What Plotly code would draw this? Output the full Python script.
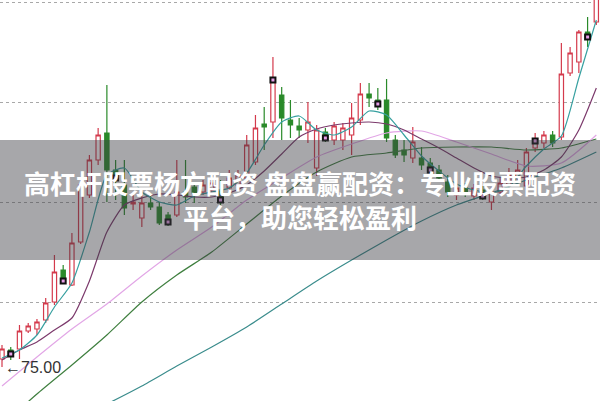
import plotly.graph_objects as go

# ---------------- data ----------------
days = list(range(69))

opens = [75.40, 75.85, 75.90, 76.80, 76.90, 77.35, 78.25, 79.85, 79.10, 81.25,
         83.60, 85.35, 86.70, 84.85, 84.10, 83.15, 82.45, 83.20, 83.00, 82.60,
         82.60, 83.75, 84.00, 83.75, 83.85, 83.85, 83.95, 84.10, 84.45, 85.25,
         87.15, 87.25, 88.60, 87.35, 87.05, 86.85, 84.95, 86.75, 86.35, 86.35,
         86.60, 87.35, 88.65, 88.35, 88.35, 86.35, 85.85, 85.45, 85.45, 85.20,
         84.85, 84.25, 83.60, 83.95, 83.55, 83.85, 83.25, 83.75, 84.10, 84.45,
         84.05, 85.95, 86.20, 86.60, 86.50, 89.70, 90.25, 91.75, 92.25]
highs = [76.10, 76.00, 77.10, 77.20, 77.40, 78.45, 80.60, 80.10, 81.70, 84.35,
         85.60, 86.95, 89.10, 85.35, 85.35, 83.60, 83.60, 83.70, 83.25, 82.75,
         85.35, 85.35, 84.20, 84.35, 84.45, 84.35, 84.85, 84.85, 86.60, 87.60,
         88.00, 90.50, 89.00, 88.35, 87.45, 88.25, 87.10, 86.95, 87.25, 87.20,
         88.20, 89.20, 89.20, 88.95, 89.40, 86.60, 86.35, 87.00, 86.00, 85.45,
         85.10, 84.60, 84.20, 84.20, 84.15, 84.05, 84.00, 84.45, 84.95, 85.35,
         85.95, 86.70, 86.80, 86.80, 91.20, 91.00, 91.85, 92.50, 93.75]
lows = [75.00, 75.35, 75.40, 76.70, 76.60, 77.20, 78.10, 79.25, 79.05, 81.15,
        83.45, 85.10, 83.25, 83.35, 82.60, 82.85, 82.00, 82.85, 82.10, 82.05,
        82.50, 83.20, 83.20, 83.60, 83.60, 83.10, 83.75, 83.85, 84.25, 85.10,
        85.85, 86.45, 86.35, 86.45, 86.45, 86.20, 84.55, 86.25, 86.10, 85.85,
        85.60, 87.10, 88.00, 87.85, 86.25, 85.45, 85.25, 85.20, 84.85, 84.50,
        84.25, 83.50, 83.35, 83.50, 83.35, 83.35, 82.85, 83.60, 83.95, 84.35,
        83.85, 85.75, 85.95, 86.00, 86.35, 89.55, 89.70, 91.00, 92.10]
closes = [75.90, 75.65, 76.80, 77.05, 77.25, 78.20, 79.75, 79.30, 81.20, 84.10,
          85.35, 86.60, 84.85, 84.45, 82.95, 83.25, 83.20, 83.00, 82.20, 82.25,
          83.75, 83.50, 83.70, 84.10, 84.20, 83.35, 84.45, 84.60, 86.10, 86.95,
          87.00, 89.35, 87.45, 87.10, 86.85, 87.25, 86.85, 86.45, 87.05, 86.95,
          87.45, 88.65, 88.45, 88.15, 86.45, 85.60, 85.60, 86.25, 85.10, 84.85,
          84.45, 83.75, 83.95, 83.75, 83.95, 83.55, 83.75, 84.20, 84.60, 84.85,
          85.75, 86.30, 86.60, 86.20, 89.65, 90.70, 91.75, 91.50, 93.45]

# moving-average lines, read at every 2nd bar
ma_fast_days = list(range(0, 69, 2))
ma5 = [75.45, 75.85, 76.60, 78.00, 79.20, 81.75, 84.60, 84.95, 83.75, 83.25,
       83.10, 83.55, 83.75, 83.95, 84.70, 86.10, 87.25, 87.55, 86.85, 86.60,
       87.00, 87.80, 87.60, 86.60, 85.55, 84.80, 84.15, 83.85, 83.70, 84.00,
       85.05, 85.90, 86.55, 89.45, 92.35]
ma10 = [75.35, 75.85, 76.25, 76.85, 77.45, 79.30, 81.75, 83.10, 83.45, 83.65,
        83.60, 83.50, 83.50, 83.70, 84.10, 84.80, 85.65, 86.50, 86.90, 87.10,
        87.20, 87.25, 87.15, 86.85, 86.40, 85.95, 85.45, 84.95, 84.55, 84.45,
        84.50, 84.85, 85.50, 86.85, 88.95]
# slower lines, read at every 4th bar
ma_slow_days = list(range(0, 69, 4))
ma20 = [74.05, 75.50, 76.90, 78.15, 79.55, 80.85, 82.00, 83.35, 84.45, 85.50,
        86.15, 86.70, 86.80, 86.25, 85.65, 85.05, 85.20, 86.60]
ma60 = [72.10, 73.65, 75.10, 76.60, 78.25, 79.60, 80.75, 82.15, 83.55, 84.75,
        85.50, 85.70, 85.95, 86.00, 86.00, 85.85, 85.95, 86.40]
ma120 = [70.50, 71.35, 72.30, 73.15, 74.05, 75.05, 76.00, 77.00, 78.15, 79.30,
         80.35, 81.35, 82.30, 83.10, 83.70, 84.35, 84.95, 85.75]

grid_levels = [78.25, 83.25, 88.25, 93.25]
marker_days = list(range(1, 69, 6))
low_label = "←75.00"
banner_lines = ["高杠杆股票杨方配资 盘盘赢配资：专业股票配资", "平台，助您轻松盈利"]

# ---------------- figure ----------------
fig = go.Figure()

fig.add_trace(go.Candlestick(
    x=days, open=opens, high=highs, low=lows, close=closes,
    increasing=dict(line=dict(color="#d43a4c", width=1.2), fillcolor="#ffffff"),
    decreasing=dict(line=dict(color="#2a8a2a", width=1.2), fillcolor="#2a8a2a"),
    whiskerwidth=0, showlegend=False, hoverinfo="skip"))

line_specs = [
    (ma_slow_days, ma120, "#3a8c8c"),
    (ma_slow_days, ma60, "#3f7f3f"),
    (ma_slow_days, ma20, "#e2a6e6"),
    (ma_fast_days, ma10, "#7c3a6c"),
    (ma_fast_days, ma5, "#37a0a0"),
]
for xs, ys, col in line_specs:
    fig.add_trace(go.Scatter(x=xs, y=ys, mode="lines",
                             line=dict(color=col, width=1.2, shape="spline", smoothing=0.6),
                             showlegend=False, hoverinfo="skip"))

mk_y = [closes[d] for d in marker_days]
fig.add_trace(go.Scatter(x=marker_days, y=mk_y, mode="markers",
                         marker=dict(symbol="square", size=7, color="#111111"),
                         showlegend=False, hoverinfo="skip"))
fig.add_trace(go.Scatter(x=marker_days, y=mk_y, mode="markers",
                         marker=dict(symbol="square", size=3, color="#e7a0e8"),
                         showlegend=False, hoverinfo="skip"))

min_i = lows.index(min(lows))
fig.add_annotation(x=days[min_i], y=lows[min_i], text=low_label, showarrow=False,
                   xanchor="left", yanchor="middle", xshift=1,
                   font=dict(family="Liberation Sans, Arial", size=16, color="#333333"))

# translucent banner with title text
fig.add_shape(type="rect", xref="paper", yref="paper", x0=0, x1=1,
              y0=1 - 260 / 401, y1=1 - 140 / 401, layer="above",
              fillcolor="rgba(60,60,66,0.45)", line=dict(width=0))
fig.add_annotation(xref="paper", yref="paper", x=0.5, y=1 - 199 / 401,
                   text="<br>".join(banner_lines), showarrow=False,
                   xanchor="center", yanchor="middle", align="center",
                   font=dict(family="Noto Sans CJK SC", size=26, color="#ffffff", weight="bold"))

fig.update_layout(
    width=600, height=401, margin=dict(l=0, r=0, t=0, b=0),
    paper_bgcolor="#ffffff", plot_bgcolor="#ffffff",
    boxgap=0.3,
    xaxis=dict(range=[-0.229, 68.42], showgrid=False, zeroline=False,
               showticklabels=False, rangeslider=dict(visible=False), fixedrange=True),
    yaxis=dict(range=[73.3, 93.35], tickvals=grid_levels, showticklabels=False,
               showgrid=True, gridcolor="#a8a8a8", griddash="dot", gridwidth=1,
               zeroline=False, fixedrange=True),
)

fig.write_html("out.html", config={"displayModeBar": False},
               post_script="document.body.style.margin='0';document.body.style.overflow='hidden';")
